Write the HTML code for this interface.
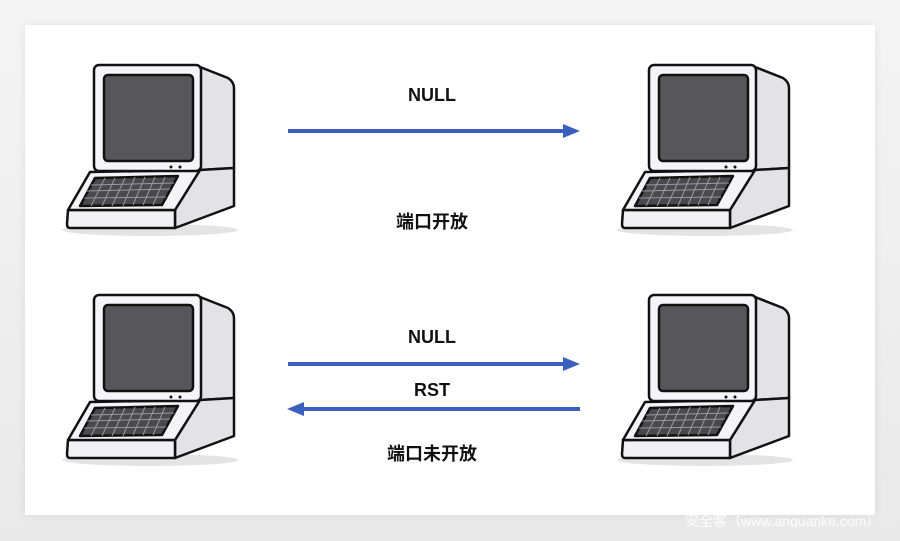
<!DOCTYPE html>
<html><head><meta charset="utf-8"><style>
html,body{margin:0;padding:0}
body{width:900px;height:541px;background:linear-gradient(#f4f4f4,#e9e9e9);position:relative;overflow:hidden;font-family:"Liberation Sans","Noto Sans CJK SC",sans-serif}
.card{position:absolute;left:25px;top:25px;width:850px;height:490px;background:#fff;box-shadow:0 0 8px rgba(0,0,0,0.08)}
svg{position:absolute;left:0;top:0}
.wm{position:absolute;left:685px;top:511px;color:#fff;font-size:14px;opacity:.9}
</style></head><body>
<div class="card"></div>
<svg width="900" height="541" viewBox="0 0 900 541">
<defs>
<g id="pc" stroke="#111" stroke-width="2.5" stroke-linejoin="round">
<ellipse cx="100" cy="180" rx="88" ry="6" fill="#e4e4e4" stroke="none"/>
<path d="M150,17 L178,28 Q184,32 184,38 L184,118 L150,120 Z" fill="#e3e3e6"/>
<path d="M150,120 L184,118 L184,156 L125,178 L125,160 Z" fill="#e3e3e6"/>
<path d="M18,160 L125,160 L125,178 L20,178 Q17,178 17,174 Z" fill="#f2f2f4"/>
<path d="M40,122 L150,120 L125,160 L18,160 Z" fill="#f4f4f6"/>
<rect x="44" y="15" width="107" height="106" rx="5" fill="#f5f5f7"/>
<rect x="54" y="25" width="89" height="86" rx="4" fill="#57575b"/>
<path d="M45,128 L128,126 L112,155 L30,156 Z" fill="#4a4a4e"/>
<g stroke="#9a9a9e" stroke-width="1">
<path d="M41,135 L124,133 M37,141 L120,139 M34,148 L116,147"/>
<path d="M55,128 L41,156 M65,128 L52,156 M75,128 L62,156 M85,127 L73,156 M95,127 L83,155 M105,127 L93,155 M115,127 L103,155"/>
</g>
<circle cx="121" cy="117" r="1.5" fill="#111" stroke="none"/>
<circle cx="130" cy="117" r="1.5" fill="#111" stroke="none"/>
</g>
</defs>
<use href="#pc" x="50" y="50"/>
<use href="#pc" x="605" y="50"/>
<use href="#pc" x="50" y="280"/>
<use href="#pc" x="605" y="280"/>
<g stroke="#3b5fbe" stroke-width="4" fill="#3b5fbe">
<line x1="288" y1="131" x2="566" y2="131"/>
<polygon points="580,131 563,124 563,138" stroke="none"/>
<line x1="288" y1="364" x2="566" y2="364"/>
<polygon points="580,364 563,357 563,371" stroke="none"/>
<line x1="302" y1="409" x2="580" y2="409"/>
<polygon points="287,409 304,402 304,416" stroke="none"/>
</g>
<g font-family="Liberation Sans, Noto Sans CJK SC, sans-serif" font-weight="bold" font-size="18" fill="#111" text-anchor="middle">
<text x="432" y="101">NULL</text>
<text x="432" y="228">端口开放</text>
<text x="432" y="343">NULL</text>
<text x="432" y="396">RST</text>
<text x="432" y="460">端口未开放</text>
</g>
</svg>
<div class="wm">安全客（www.anquanke.com）</div>
</body></html>
